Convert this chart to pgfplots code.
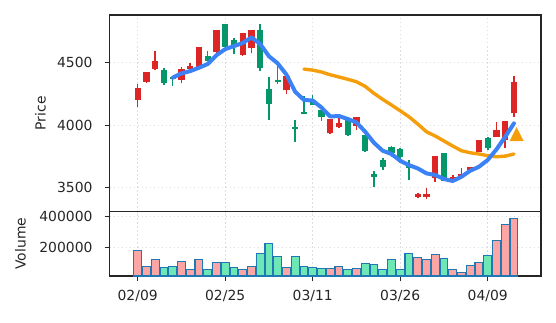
\documentclass[border=0pt]{standalone}
\usepackage{pgfplots}
\pgfplotsset{compat=1.18}
\usepackage{pgfplotstable}
\usepackage{fontspec}
\setmainfont{DejaVu Sans}

\definecolor{cred}{RGB}{220,38,38}
\definecolor{cgreen}{RGB}{5,150,105}
\definecolor{vpink}{RGB}{252,165,165}
\definecolor{vgreen}{RGB}{110,231,183}
\definecolor{vedge}{RGB}{31,119,180}
\definecolor{mablue}{RGB}{59,130,246}
\definecolor{maorange}{RGB}{245,158,11}
\definecolor{axcol}{RGB}{38,38,38}

% candles: i, body low, body high, wick low, wick high
\pgfplotstableread{
i bl bh lo hi
0 4201 4295 4148 4327
1 4343 4423 4340 4426
2 4447 4511 4441 4593
5 4359 4447 4335 4463
6 4447 4476 4441 4495
7 4460 4623 4455 4626
9 4583 4759 4580 4762
12 4559 4735 4555 4738
13 4615 4759 4575 4762
17 4279 4391 4252 4394
22 3935 4047 3933 4049
23 3983 4020 3981 4055
25 3993 4068 3961 4070
32 3423 3450 3415 3461
33 3423 3450 3410 3495
34 3575 3754 3550 3756
36 3556 3583 3550 3602
37 3588 3610 3585 3655
38 3642 3663 3635 3665
39 3788 3879 3786 3881
41 3910 3961 3908 4025
42 3885 4033 3820 4036
43 4095 4348 4068 4393
}\redc

\pgfplotstableread{
i bl bh lo hi
3 4335 4441 4324 4457
4 4366 4382 4314 4396
8 4516 4553 4510 4593
10 4628 4807 4625 4810
11 4641 4679 4567 4695
14 4455 4759 4436 4807
15 4167 4287 4039 4383
16 4343 4359 4327 4473
18 3970 3986 3868 4039
19 4090 4106 4087 4235
20 4165 4200 4160 4241
21 4068 4121 4036 4123
24 3919 4041 3917 4068
26 3793 3919 3790 3921
27 3583 3609 3508 3636
28 3668 3721 3641 3735
29 3775 3823 3748 3833
30 3743 3807 3695 3820
31 3660 3690 3560 3720
35 3556 3775 3553 3777
40 3815 3900 3803 3903
}\greenc

\pgfplotstableread{
i v
0 183000
1 78700
2 125500
5 112800
6 59500
7 125500
9 106400
12 59500
13 78700
17 72300
22 66000
23 78700
25 66000
32 138300
33 125500
34 157400
36 59500
37 42500
38 87200
39 106400
41 246800
42 349000
43 387300
}\redv

\pgfplotstableread{
i v
3 72300
4 78700
8 59500
10 106400
11 74500
14 163800
15 227700
16 144700
18 144700
19 78700
20 72300
21 66000
24 59500
26 100000
27 93600
28 59500
29 125500
30 59500
31 163800
35 131900
40 151000
}\greenv

\pgfplotstableread{
i m
4 4380
5 4415
6 4433
7 4460
8 4490
9 4560
10 4609
11 4633
12 4658
13 4703
14 4650
15 4552
16 4495
17 4405
18 4268
19 4202
20 4198
21 4142
22 4070
23 4074
24 4050
25 4023
26 3948
27 3860
28 3796
29 3770
30 3716
31 3681
32 3655
33 3615
34 3602
35 3570
36 3554
37 3588
38 3636
39 3668
40 3722
41 3807
42 3908
43 4015
}\maA

\pgfplotstableread{
i m
19 4449
20 4441
21 4426
22 4404
23 4386
24 4368
25 4348
26 4311
27 4255
28 4207
29 4162
30 4116
31 4068
32 4010
33 3948
34 3914
35 3874
36 3834
37 3796
38 3780
39 3770
40 3756
41 3748
42 3753
43 3770
}\maB

\pgfplotsset{
  base/.style={
    scale only axis,
    width=431.5pt,
    xmin=-3.22, xmax=46.09,
    axis line style={line width=1.2pt, axcol},
    tick style={line width=1pt, axcol},
    major tick length=5pt,
    tick align=outside,
    xtick={0,10,20,30,40},
    grid=major,
    major grid style={dash pattern=on 1.6pt off 2.4pt, line width=1.1pt, black!13},
    tick label style={font=\fontsize{13.9}{16}\selectfont, text=axcol},
    yticklabel style={xshift=-8.5pt},
    xticklabel style={yshift=-6pt},
    /pgf/number format/assume math mode=true,
    /pgf/number format/fixed,
    /pgf/number format/precision=0,
    /pgf/number format/1000 sep={},
    scaled y ticks=false,
    ytick pos=left,
    xtick pos=bottom,
  },
  candle/.style 2 args={draw=none, mark=none, forget plot,
    error bars/.cd, y dir=plus, y explicit, error mark=none,
    error bar style={line width=#2, draw=#1, solid}},
}

\begin{document}
\begin{tikzpicture}
\path[use as bounding box] (0pt,0pt) rectangle (556pt,322pt);

\begin{axis}[base,
  at={(109.5pt,110.5pt)}, anchor=south west,
  height=196.5pt,
  ymin=3310, ymax=4882,
  ytick={3500,4000,4500},
  xticklabels={},
  xmajorticks=false,
  ylabel={Price},
  every axis y label/.style={at={(rel axis cs:0,0.5)}, xshift=-69pt, rotate=90, anchor=center, font=\fontsize{13.9}{16}\selectfont, text=axcol},
]
% wicks
\addplot[candle={cred}{1.6pt}]
  table[x=i, y=lo, y error expr=\thisrow{hi}-\thisrow{lo}] {\redc};
\addplot[candle={cgreen}{1.6pt}]
  table[x=i, y=lo, y error expr=\thisrow{hi}-\thisrow{lo}] {\greenc};
% bodies
\addplot[candle={cred}{6.3pt}]
  table[x=i, y=bl, y error expr=\thisrow{bh}-\thisrow{bl}] {\redc};
\addplot[candle={cgreen}{6.3pt}]
  table[x=i, y=bl, y error expr=\thisrow{bh}-\thisrow{bl}] {\greenc};
% moving averages
\addplot[maorange, line width=3.4pt, line join=round, line cap=round, mark=none] table[x=i, y=m] {\maB};
\addplot[only marks, mark=triangle*, mark size=7.7pt, color=maorange, mark options={yscale=1.15}] coordinates {(43.3,3910)};
\addplot[mablue, line width=4pt, line join=round, line cap=round, mark=none] table[x=i, y=m] {\maA};
\end{axis}

\begin{axis}[base,
  at={(109.5pt,46pt)}, anchor=south west,
  height=64.5pt,
  ymin=19760, ymax=430600,
  ytick={200000,400000},
  xticklabels={02/09,02/25,03/11,03/26,04/09},
  ylabel={Volume},
  every axis y label/.style={at={(rel axis cs:0,0.5)}, xshift=-89pt, rotate=90, anchor=center, font=\fontsize{13.9}{16}\selectfont, text=axcol},
]
\addplot[ybar, bar width=0.9, bar shift=0pt, fill=vpink, draw=vedge, line width=1.1pt] table[x=i, y=v] {\redv};
\addplot[ybar, bar width=0.9, bar shift=0pt, fill=vgreen, draw=vedge, line width=1.1pt] table[x=i, y=v] {\greenv};
\end{axis}
\end{tikzpicture}
\end{document}
